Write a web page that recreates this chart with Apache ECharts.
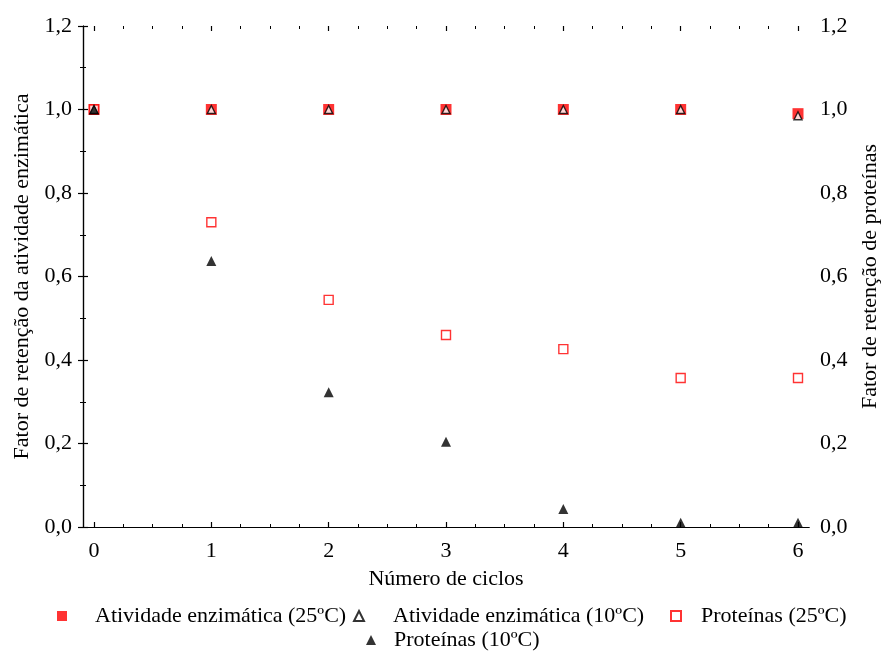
<!DOCTYPE html>
<html><head><meta charset="utf-8">
<script src="https://cdn.jsdelivr.net/npm/echarts@6/dist/echarts.min.js"></script>
<style>html,body{margin:0;padding:0;background:#fff}#c{width:884px;height:653px}</style>
</head><body><div id="c"></div>
<script>
var cycles = [0, 1, 2, 3, 4, 5, 6];
var atividade25 = [1.0, 1.0, 1.0, 1.0, 1.0, 1.0, 0.99];
var atividade10 = [1.0, 1.0, 1.0, 1.0, 1.0, 1.0, 0.985];
var proteinas25 = [1.0, 0.73, 0.544, 0.46, 0.426, 0.357, 0.357];
var proteinas10 = [1.0, 0.637, 0.323, 0.204, 0.043, 0.01, 0.01];
var names = ['Atividade enzimática (25ºC)', 'Atividade enzimática (10ºC)', 'Proteínas (25ºC)', 'Proteínas (10ºC)'];

function pairs(vals){ return cycles.map(function(c,i){ return [c, vals[i]]; }); }
var FONT = 'Liberation Serif';
var FS = 22;
var lineStyle = {color:'#000', width:1.2};
var fmtY = function(v){ return v.toFixed(1).replace('.', ','); };

var chart = echarts.init(document.getElementById('c'));
function legend(name, left, top, pad){
  return {data:[name], left:left, top:top, itemWidth:10, itemHeight:10, padding:0,
    selectedMode:false,
    textStyle:{fontFamily:FONT, fontSize:FS, color:'#000', padding:[0,0,0,pad]}};
}
chart.setOption({
  animation:false,
  backgroundColor:'#fff',
  grid:[
    {left:83, right:75, top:26, bottom:126, outerBoundsMode:'none', containLabel:false},
    {left:94, right:86, top:26, bottom:126, outerBoundsMode:'none', containLabel:false}
  ],
  legend:[
    legend(names[0], 57, 605, 23),
    legend(names[1], 353, 605, 24),
    legend(names[2], 670, 605, 15),
    legend(names[3], 366, 629, 13)
  ],
  xAxis:[
    {gridIndex:0, type:'value', min:0, max:1, position:'bottom', axisLine:{show:true, lineStyle:lineStyle}, axisTick:{show:false}, axisLabel:{show:false}, splitLine:{show:false}},
    {gridIndex:0, type:'value', min:0, max:1, position:'top', axisLine:{show:true, lineStyle:lineStyle}, axisTick:{show:false}, axisLabel:{show:false}, splitLine:{show:false}},
    {gridIndex:1, type:'value', min:0, max:6, interval:1, position:'bottom',
      name:'Número de ciclos', nameLocation:'middle', nameGap:41,
      nameTextStyle:{fontFamily:FONT, fontSize:FS, color:'#000'},
      axisLine:{show:false},
      axisTick:{show:true, inside:true, length:5, lineStyle:lineStyle},
      minorTick:{show:true, splitNumber:4, length:3, lineStyle:{color:'#000', width:1}},
      axisLabel:{fontFamily:FONT, fontSize:FS, color:'#000', margin:13},
      splitLine:{show:false}},
    {gridIndex:1, type:'value', min:0, max:6, interval:1, position:'top',
      axisLine:{show:false},
      axisTick:{show:true, inside:true, length:5, lineStyle:lineStyle},
      minorTick:{show:true, splitNumber:4, length:3, lineStyle:{color:'#000', width:1}},
      axisLabel:{show:false}, splitLine:{show:false}}
  ],
  yAxis:[
    {gridIndex:0, type:'value', min:0, max:1.2, interval:0.2, position:'left',
      name:'Fator de retenção da atividade enzimática', nameLocation:'middle', nameGap:50, nameRotate:90,
      nameTextStyle:{fontFamily:FONT, fontSize:FS, color:'#000'},
      axisLine:{show:true, lineStyle:lineStyle},
      axisTick:{show:true, inside:true, length:5, lineStyle:lineStyle},
      minorTick:{show:true, splitNumber:2, length:3, lineStyle:{color:'#000', width:1}},
      axisLabel:{fontFamily:FONT, fontSize:FS, color:'#000', margin:11, formatter:fmtY},
      splitLine:{show:false}},
    {gridIndex:0, type:'value', min:0, max:1.2, interval:0.2, position:'right',
      name:'Fator de retenção de proteínas', nameLocation:'middle', nameGap:50, nameRotate:90,
      nameTextStyle:{fontFamily:FONT, fontSize:FS, color:'#000'},
      axisLine:{show:true, lineStyle:lineStyle},
      axisTick:{show:true, inside:true, length:5, lineStyle:lineStyle},
      minorTick:{show:true, splitNumber:2, length:3, lineStyle:{color:'#000', width:1}},
      axisLabel:{fontFamily:FONT, fontSize:FS, color:'#000', margin:11, formatter:fmtY},
      splitLine:{show:false}},
    {gridIndex:1, type:'value', min:0, max:1.2, show:false}
  ],
  series:[
    {name:names[0], type:'scatter', xAxisIndex:2, yAxisIndex:2, symbol:'rect', symbolSize:11, z:2,
      itemStyle:{color:'#ff0000'}, data:pairs(atividade25)},
    {name:names[2], type:'scatter', xAxisIndex:2, yAxisIndex:2, symbol:'rect', symbolSize:9, z:3,
      itemStyle:{color:'#fff', borderColor:'#ff0000', borderWidth:1.4}, data:pairs(proteinas25)},
    {name:names[1], type:'scatter', xAxisIndex:2, yAxisIndex:2, symbol:'triangle', symbolSize:8, z:4,
      itemStyle:{color:'#fff', borderColor:'#000', borderWidth:1.4}, data:pairs(atividade10)},
    {name:names[3], type:'scatter', xAxisIndex:2, yAxisIndex:2, symbol:'triangle', symbolSize:10, z:5,
      itemStyle:{color:'#000'}, data:pairs(proteinas10)}
  ]
});
</script></body></html>
